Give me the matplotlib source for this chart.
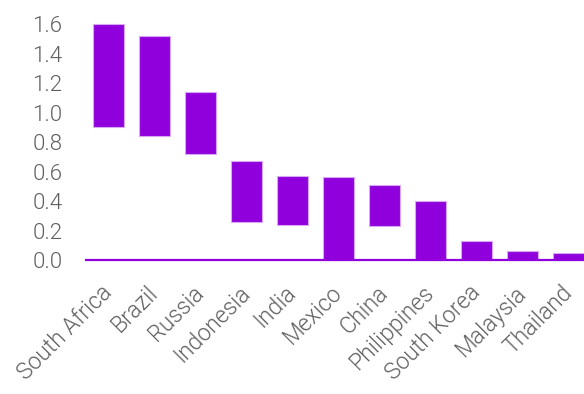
import matplotlib.pyplot as plt
import numpy as np
from matplotlib.transforms import ScaledTranslation

countries = ["South Africa", "Brazil", "Russia", "Indonesia", "India", "Mexico",
             "China", "Philippines", "South Korea", "Malaysia", "Thailand"]
low = [0.90, 0.84, 0.72, 0.26, 0.24, 0.0, 0.23, 0.0, 0.0, 0.0, 0.0]
high = [1.60, 1.52, 1.14, 0.67, 0.57, 0.56, 0.51, 0.40, 0.13, 0.06, 0.05]
yticks = [0.0, 0.2, 0.4, 0.6, 0.8, 1.0, 1.2, 1.4, 1.6]

purple = "#9000dc"
grey = "#5f5f5f"

plt.rcParams['font.family'] = ['Roboto', 'DejaVu Sans']

fig = plt.figure(figsize=(5.84, 3.94), dpi=100)
ax = fig.add_axes([0.1473, 0.3326, 0.854, 0.6252])

x = np.arange(len(countries))
lo = np.array(low)
hi = np.array(high)
ax.bar(x, hi - lo, bottom=lo, width=0.67, color=purple,
       edgecolor="#d8a8f4", linewidth=0.8, zorder=2)
ax.axhline(0, color=purple, linewidth=1.6, zorder=3, clip_on=False)

ax.set_xlim(-0.49, 10.35)
ax.set_ylim(-0.02, 1.65)
ax.set_yticks(yticks)
ax.set_yticklabels([f"{v:.1f}" for v in yticks], fontsize=16,
                   fontweight=300, color=grey)
ax.set_xticks(x)
ax.set_xticklabels(countries, rotation=45, ha="right", va="center",
                   rotation_mode="anchor", fontsize=16.5,
                   fontweight=300, color=grey)
# nudge the slanted names a bit to the right
shift = ScaledTranslation(0.06, 0, fig.dpi_scale_trans)
for lab in ax.get_xticklabels():
    lab.set_transform(lab.get_transform() + shift)
ax.tick_params(axis="both", length=0)
ax.tick_params(axis="y", pad=17)
ax.tick_params(axis="x", pad=19)
for s in ax.spines.values():
    s.set_visible(False)

fig.savefig("out.png", dpi=100)
